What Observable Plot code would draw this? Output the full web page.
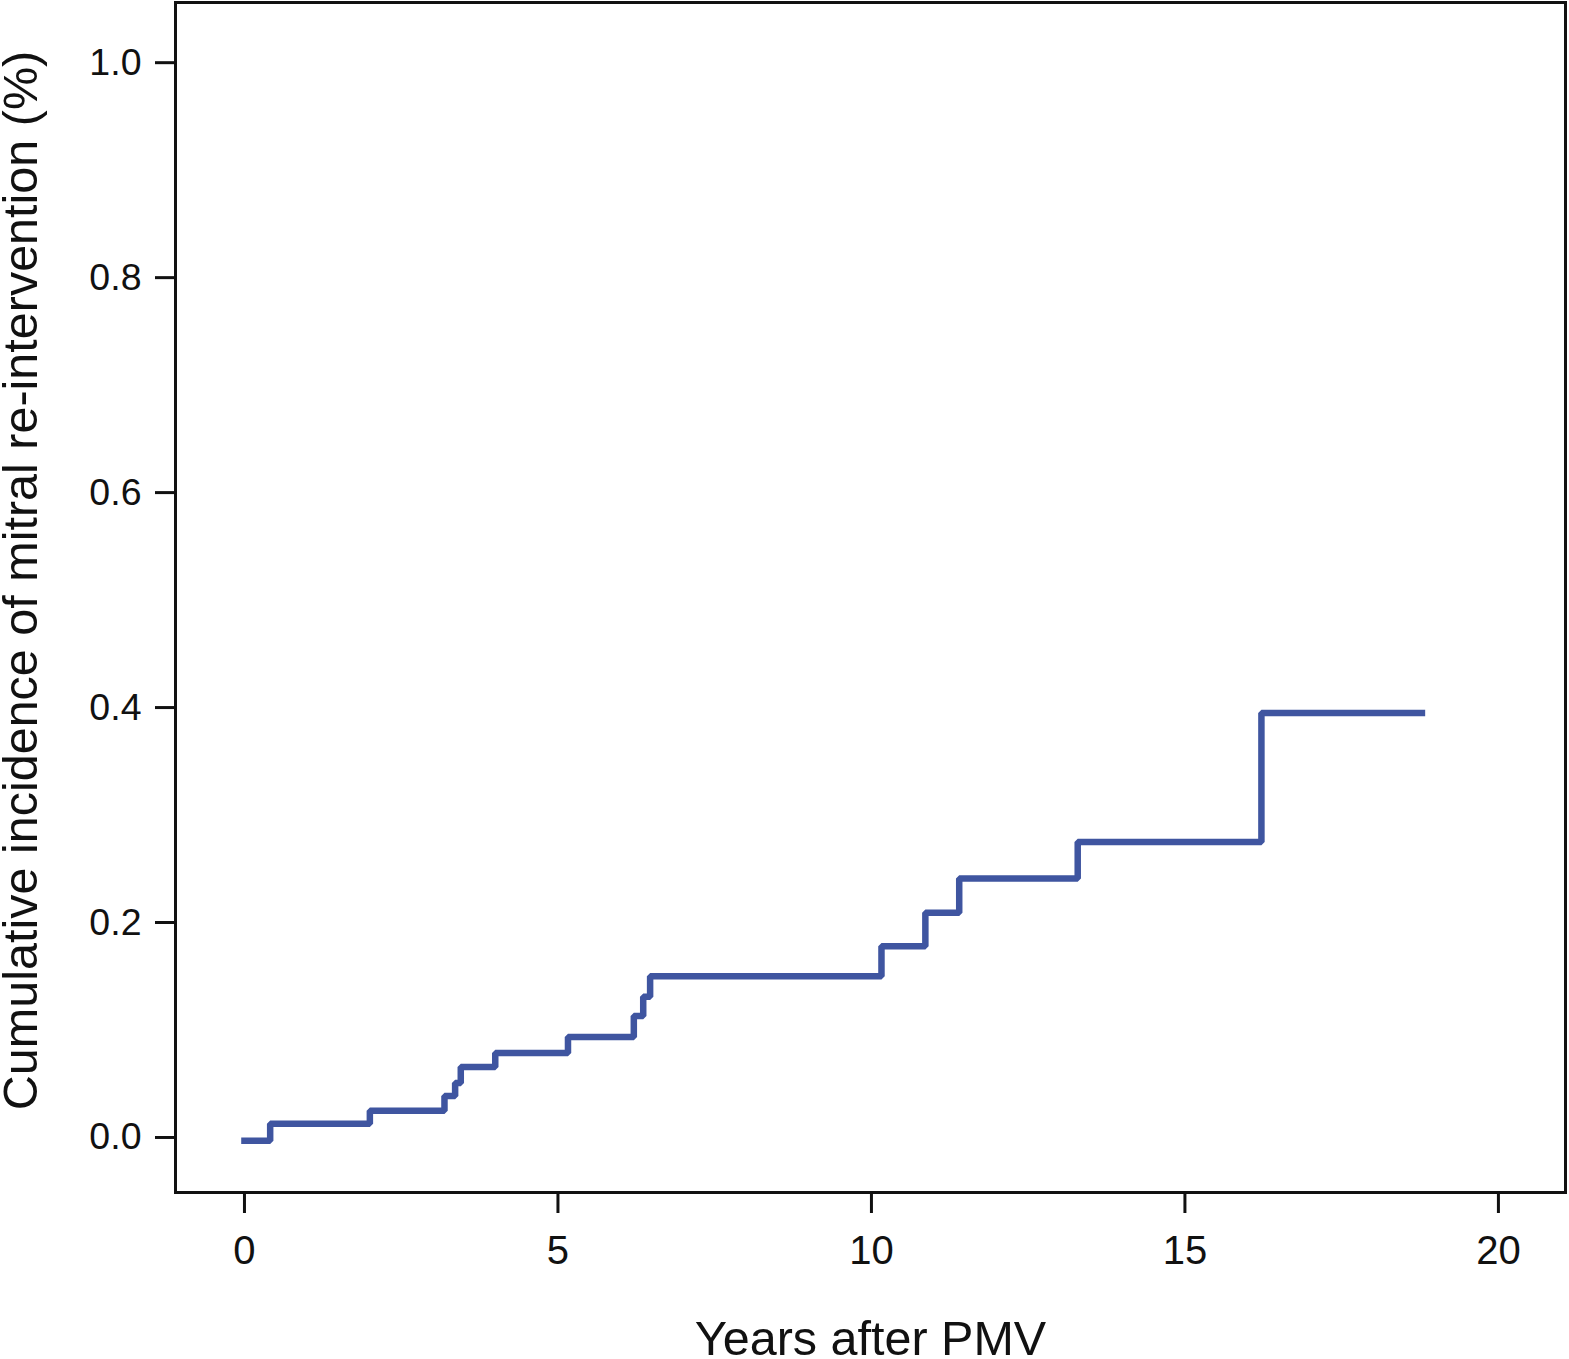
<!DOCTYPE html>
<html>
<head>
<meta charset="utf-8">
<script src="https://cdn.jsdelivr.net/npm/d3@7"></script>
<script src="https://cdn.jsdelivr.net/npm/@observablehq/plot@0.6"></script>
<style>
  html, body { margin: 0; padding: 0; background: #fff; }
  #chart svg { display: block; }
</style>
</head>
<body>
<div id="chart"></div>
<script>
// Step times (years after PMV) and cumulative incidence levels (step-after)
const years = [0, 0.41, 2.00, 3.19, 3.36, 3.45, 4.00, 5.16, 6.21, 6.36, 6.47, 10.16, 10.86, 11.40, 13.29, 16.22, 18.78];
const incidence = [-0.003, 0.0127, 0.0248, 0.0386, 0.0507, 0.0656, 0.0786, 0.0935, 0.113, 0.131, 0.150, 0.178, 0.209, 0.241, 0.275, 0.395, 0.395];
const xTicks = [0, 5, 10, 15, 20];
const yTicks = [0.0, 0.2, 0.4, 0.6, 0.8, 1.0];
const xTitle = "Years after PMV";
const yTitle = "Cumulative incidence of mitral re-intervention (%)";

const data = years.map((t, i) => ({t, v: incidence[i]}));

const chart = Plot.plot({
  width: 1569,
  height: 1359,
  marginLeft: 175,
  marginRight: 4,
  marginTop: 2,
  marginBottom: 167,
  style: {fontFamily: "'Liberation Sans', Arial, Helvetica, sans-serif", background: "#fff", color: "#111"},
  x: {domain: [-1.10, 21.07]},
  y: {domain: [-0.0512, 1.056]},
  marks: [
    Plot.frame({stroke: "#111", strokeWidth: 3}),
    Plot.axisY(yTicks, {tickSize: 20, tickPadding: 14, tickFormat: d3.format(".1f"), fontSize: 37.5, strokeWidth: 3, label: null}),
    Plot.axisX(xTicks, {tickSize: 21, tickPadding: 22, fontSize: 40, strokeWidth: 3, label: null}),
    Plot.line(data, {x: "t", y: "v", curve: "step-after", stroke: "#3f55a0", strokeWidth: 6.5, strokeLinejoin: "miter", strokeLinecap: "square"}),
    Plot.text([xTitle], {frameAnchor: "bottom", dy: 162, fontSize: 48.5, fill: "#111", text: d => d}),
    Plot.text([yTitle], {frameAnchor: "left", textAnchor: "middle", dx: -154, dy: -17, rotate: -90, fontSize: 48.5, fill: "#111", text: d => d})
  ]
});
document.getElementById("chart").appendChild(chart);
</script>
</body>
</html>
